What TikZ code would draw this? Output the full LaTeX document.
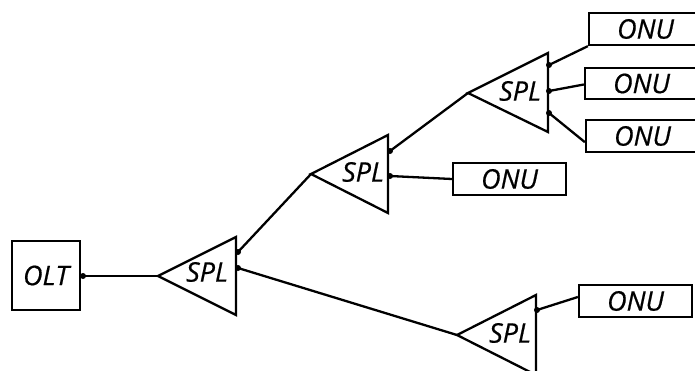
\documentclass[tikz,border=0pt]{standalone}
\usepackage{fontspec}
\setmainfont{Open Sans}[ItalicFeatures={FakeBold=0.6}]
\begin{document}
\begin{tikzpicture}[x=1pt,y=1pt,
  lbl/.style={font=\itshape\fontsize{27}{27}\selectfont, inner sep=0pt},
  box/.style={draw, line width=2.3pt, inner sep=0pt, font=\itshape\fontsize{27}{27}\selectfont},
  wire/.style={line width=2.3pt},
  tri/.style={line width=2.3pt, line join=miter},
  dotp/.style={circle, fill=black, inner sep=0pt, minimum size=6pt}
]
\useasboundingbox (0,0) rectangle (695,370);
% OLT
\node[box, minimum width=68pt, minimum height=69pt] (olt) at (46,370-275.5) {OLT};
\node[dotp] (doOlt) at (83,370-276) {};
% SPL1
\coordinate (a1) at (158,370-276);
\draw[tri] (a1) -- (236,370-237) -- (236,370-315) -- cycle;
\node[lbl] (s1) at (207,370-272) {SPL};
\node[dotp] (d1a) at (238,370-252) {};
\node[dotp] (d1b) at (238,370-268) {};
% SPL2
\coordinate (a2) at (311,370-174);
\draw[tri] (a2) -- (388,370-135) -- (388,370-213) -- cycle;
\node[lbl] (s2) at (363,370-172) {SPL};
\node[dotp] (d2a) at (390,370-151) {};
\node[dotp] (d2b) at (390,370-176) {};
% SPL3
\coordinate (a3) at (468,370-93);
\draw[tri] (a3) -- (548,370-53) -- (548,370-132) -- cycle;
\node[lbl] (s3) at (520,370-91) {SPL};
\node[dotp] (d3a) at (549,370-65) {};
\node[dotp] (d3b) at (549,370-91) {};
\node[dotp] (d3c) at (549,370-113) {};
% SPL4
\coordinate (a4) at (457,370-335);
\draw[tri] (a4) -- (536,370-295) -- (536,370-375) -- cycle;
\node[lbl] (s4) at (510,370-333) {SPL};
\node[dotp] (d4a) at (537,370-310) {};
% ONU boxes
\node[box, minimum width=113pt, minimum height=32pt] (o2) at (509.5,370-179) {ONU};
\node[box, minimum width=113pt, minimum height=32pt] (o31) at (645.5,370-29) {ONU};
\node[box, minimum width=113pt, minimum height=31pt] (o32) at (641.5,370-83.5) {ONU};
\node[box, minimum width=113pt, minimum height=32pt] (o33) at (642.5,370-136) {ONU};
\node[box, minimum width=113pt, minimum height=32pt] (o4) at (635.5,370-301) {ONU};
% wires
\draw[wire] (doOlt.center) -- (a1);
\draw[wire] (d1a.center) -- (a2);
\draw[wire] (d1b.center) -- (a4);
\draw[wire] (d2a.center) -- (a3);
\draw[wire] (d2b.center) -- (o2.west);
\draw[wire] (d3a.center) -- (o31.south west);
\draw[wire] (d3b.center) -- ([yshift=-1pt]o32.west);
\draw[wire] (d3c.center) -- ([yshift=11pt]o33.south west);
\draw[wire] (d4a.center) -- ([yshift=4pt]o4.west);
\end{tikzpicture}
\end{document}
